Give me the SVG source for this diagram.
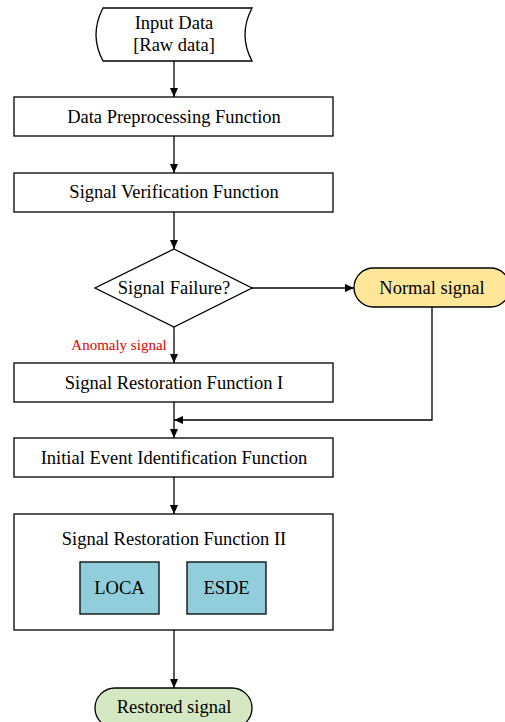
<svg xmlns="http://www.w3.org/2000/svg" width="505" height="722" viewBox="0 0 505 722">
<style>
.box{fill:#fff;stroke:#000;stroke-width:1.3}
.t{font-family:"Liberation Serif","Times New Roman",serif;font-size:18.5px;fill:#000;text-anchor:middle;dominant-baseline:central}
.ln{fill:none;stroke:#000;stroke-width:1.3}
</style>
<defs>
<marker id="ah" markerWidth="10" markerHeight="10" refX="9" refY="5" orient="auto" markerUnits="userSpaceOnUse">
<path d="M0,1 L9,5 L0,9 Z" fill="#000"/>
</marker>
</defs>
<rect width="505" height="722" fill="#fff"/>
<g id="connectors">
<line class="ln" x1="174" y1="61" x2="174" y2="97" marker-end="url(#ah)"/>
<line class="ln" x1="174" y1="136" x2="174" y2="173" marker-end="url(#ah)"/>
<line class="ln" x1="174" y1="212" x2="174" y2="249" marker-end="url(#ah)"/>
<line class="ln" x1="252" y1="288" x2="354" y2="288" marker-end="url(#ah)"/>
<line class="ln" x1="174" y1="327" x2="174" y2="363" marker-end="url(#ah)"/>
<polyline class="ln" points="432,307 432,420 174,420" marker-end="url(#ah)"/>
<line class="ln" x1="174" y1="402" x2="174" y2="438" marker-end="url(#ah)"/>
<line class="ln" x1="174" y1="477" x2="174" y2="514" marker-end="url(#ah)"/>
<line class="ln" x1="174" y1="630" x2="174" y2="688" marker-end="url(#ah)"/>
<text x="119" y="345" font-family="Liberation Serif,'Times New Roman',serif" font-size="15" fill="#e00000" text-anchor="middle" dominant-baseline="central">Anomaly signal</text>
</g>
<g id="input">
<path class="box" d="M103,8 L252,8 Q238,35 252,61 L103,61 Q89,35 103,8 Z"/>
<text class="t" x="174" y="23">Input Data</text>
<text class="t" x="174" y="45">[Raw data]</text>
</g>
<g id="preprocess">
<rect class="box" x="14" y="97" width="319" height="39"/>
<text class="t" x="174" y="117">Data Preprocessing Function</text>
</g>
<g id="verify">
<rect class="box" x="14" y="173" width="319" height="39"/>
<text class="t" x="174" y="192">Signal Verification Function</text>
</g>
<g id="decision">
<polygon class="box" points="174,249 252,288 174,327 95,288"/>
<text class="t" x="174" y="288">Signal Failure?</text>
</g>
<g id="normal">
<rect x="354" y="268" width="156" height="39" rx="19.5" fill="#ffe699" stroke="#000" stroke-width="1.3"/>
<text class="t" x="432" y="288">Normal signal</text>
</g>
<g id="restore1">
<rect class="box" x="14" y="363" width="319" height="39"/>
<text class="t" x="174" y="383">Signal Restoration Function I</text>
</g>
<g id="initial">
<rect class="box" x="14" y="438" width="319" height="39"/>
<text class="t" x="174" y="458">Initial Event Identification Function</text>
</g>
<g id="restore2">
<rect class="box" x="14" y="514" width="319" height="116"/>
<text class="t" x="174" y="539">Signal Restoration Function II</text>
</g>
<g id="loca">
<rect x="80" y="562" width="79" height="52" fill="#92cddc" stroke="#000" stroke-width="1.3"/>
<text class="t" x="119.5" y="588">LOCA</text>
</g>
<g id="esde">
<rect x="187" y="562" width="79" height="52" fill="#92cddc" stroke="#000" stroke-width="1.3"/>
<text class="t" x="226.5" y="588">ESDE</text>
</g>
<g id="restored">
<rect x="95" y="688" width="157" height="40" rx="20" fill="#d5e8c4" stroke="#000" stroke-width="1.3"/>
<text class="t" x="174" y="707">Restored signal</text>
</g>
</svg>
